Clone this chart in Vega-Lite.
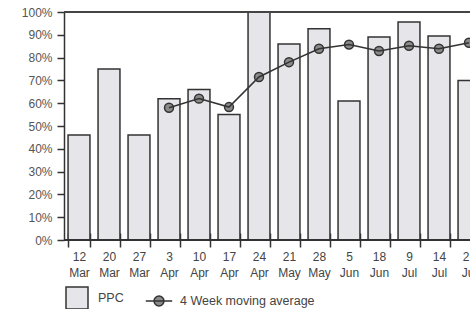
{
  "$schema": "https://vega.github.io/schema/vega-lite/v6.json",
  "autosize": "none",
  "width": 406,
  "height": 228,
  "padding": {"left": 64, "top": 12, "right": 0, "bottom": 69},
  "background": "white",
  "config": {
    "view": {"stroke": null},
    "font": "Liberation Sans",
    "axisY": {"tickCount": 12, "labelOverlap": false}
  },
  "datasets": {
    "weeks": [
      {"week": "12 Mar", "ppc": 0.46, "ma": null},
      {"week": "20 Mar", "ppc": 0.75, "ma": null},
      {"week": "27 Mar", "ppc": 0.46, "ma": null},
      {"week": "3 Apr", "ppc": 0.62, "ma": 0.58},
      {"week": "10 Apr", "ppc": 0.66, "ma": 0.62},
      {"week": "17 Apr", "ppc": 0.55, "ma": 0.583},
      {"week": "24 Apr", "ppc": 1.0, "ma": 0.715},
      {"week": "21 May", "ppc": 0.86, "ma": 0.78},
      {"week": "28 May", "ppc": 0.927, "ma": 0.839},
      {"week": "5 Jun", "ppc": 0.61, "ma": 0.857},
      {"week": "18 Jun", "ppc": 0.89, "ma": 0.829},
      {"week": "9 Jul", "ppc": 0.956, "ma": 0.852},
      {"week": "14 Jul", "ppc": 0.895, "ma": 0.839},
      {"week": "21 Jul", "ppc": 0.70, "ma": 0.865}
    ],
    "legend": [
      {"series": "PPC"},
      {"series": "4 Week moving average"}
    ]
  },
  "data": {"name": "weeks"},
  "layer": [
    {
      "mark": {"type": "bar", "fill": "#e6e6ea", "stroke": "#333", "strokeWidth": 1.5, "clip": true},
      "encoding": {
        "x": {
          "field": "week",
          "type": "nominal",
          "sort": null,
          "scale": {"range": [0, 420], "paddingInner": 0.27, "paddingOuter": 0.135},
          "axis": {
            "title": null,
            "labelAngle": 0,
            "domain": false,
            "offset": -7,
            "tickSize": 14,
            "tickWidth": 1.5,
            "tickColor": "#333",
            "tickBand": "extent",
            "labelPadding": 4,
            "labelFontSize": 12,
            "labelColor": "#444",
            "labelLineHeight": 16,
            "labelExpr": "split(datum.label, ' ')"
          }
        },
        "y": {
          "field": "ppc",
          "type": "quantitative",
          "scale": {"domain": [0, 1], "nice": false},
          "axis": {
            "title": null,
            "values": [0, 0.1, 0.2, 0.3, 0.4, 0.5, 0.6, 0.7, 0.8, 0.9, 1.0],
            "tickCount": 12,
            "format": ".0%",
            "grid": false,
            "labelOverlap": false,
            "domainColor": "#333",
            "domainWidth": 1.5,
            "tickColor": "#333",
            "tickWidth": 1.5,
            "tickSize": 7,
            "labelPadding": 5,
            "labelFontSize": 12,
            "labelColor": "#555"
          }
        }
      }
    },
    {
      "mark": {"type": "rule", "stroke": "#444", "strokeWidth": 2},
      "encoding": {"y": {"datum": 1, "type": "quantitative", "axis": {"title": null, "values": [0, 0.1, 0.2, 0.3, 0.4, 0.5, 0.6, 0.7, 0.8, 0.9, 1.0], "tickCount": 12, "format": ".0%"}}}
    },
    {
      "mark": {"type": "rule", "stroke": "#333", "strokeWidth": 1.5},
      "encoding": {"y": {"datum": 0, "type": "quantitative", "axis": {"title": null, "values": [0, 0.1, 0.2, 0.3, 0.4, 0.5, 0.6, 0.7, 0.8, 0.9, 1.0], "tickCount": 12, "format": ".0%"}}}
    },
    {
      "transform": [{"filter": "isValid(datum.ma)"}],
      "mark": {"type": "point", "shape": "circle", "filled": true, "fill": "#8a8a8a", "stroke": "#333", "strokeWidth": 1.5, "size": 80, "opacity": 1, "clip": true},
      "encoding": {
        "x": {"field": "week", "type": "nominal", "sort": null},
        "y": {"field": "ma", "type": "quantitative", "axis": {"title": null, "values": [0, 0.1, 0.2, 0.3, 0.4, 0.5, 0.6, 0.7, 0.8, 0.9, 1.0], "tickCount": 12, "format": ".0%"}}
      }
    },
    {
      "transform": [{"filter": "isValid(datum.ma)"}],
      "mark": {"type": "line", "stroke": "#333", "strokeWidth": 1.5, "clip": true},
      "encoding": {
        "x": {"field": "week", "type": "nominal", "sort": null},
        "y": {"field": "ma", "type": "quantitative", "axis": {"title": null, "values": [0, 0.1, 0.2, 0.3, 0.4, 0.5, 0.6, 0.7, 0.8, 0.9, 1.0], "tickCount": 12, "format": ".0%"}}
      }
    },
    {
      "data": {"name": "legend"},
      "mark": {"type": "point", "opacity": 0, "filled": true, "strokeWidth": 1.5},
      "encoding": {
        "x": {"value": 0},
        "y": {"value": 0},
        "shape": {
          "field": "series",
          "type": "nominal",
          "scale": {
            "domain": ["PPC", "4 Week moving average"],
            "range": ["square", "M-1.2,0L1.2,0M0.45,0A0.45,0.45,0,1,1,-0.45,0A0.45,0.45,0,1,1,0.45,0Z"]
          },
          "legend": {
            "title": null,
            "orient": "none",
            "legendX": 1,
            "legendY": 274,
            "direction": "horizontal",
            "padding": 0,
            "symbolSize": 484,
            "symbolOpacity": 1,
            "symbolStrokeWidth": 1.5,
            "labelOffset": 9,
            "columnPadding": 18,
            "labelFontSize": 12.5,
            "labelColor": "#444",
            "labelFont": "Liberation Sans"
          }
        },
        "fill": {
          "field": "series",
          "type": "nominal",
          "scale": {"domain": ["PPC", "4 Week moving average"], "range": ["#e6e6ea", "#8a8a8a"]},
          "legend": {
            "title": null,
            "orient": "none",
            "legendX": 1,
            "legendY": 274,
            "direction": "horizontal",
            "padding": 0,
            "symbolSize": 484,
            "symbolOpacity": 1,
            "symbolStrokeWidth": 1.5,
            "labelOffset": 9,
            "columnPadding": 18,
            "labelFontSize": 12.5,
            "labelColor": "#444",
            "labelFont": "Liberation Sans"
          }
        },
        "stroke": {
          "field": "series",
          "type": "nominal",
          "scale": {"domain": ["PPC", "4 Week moving average"], "range": ["#333333", "#333333"]},
          "legend": {
            "title": null,
            "orient": "none",
            "legendX": 1,
            "legendY": 274,
            "direction": "horizontal",
            "padding": 0,
            "symbolSize": 484,
            "symbolOpacity": 1,
            "symbolStrokeWidth": 1.5,
            "labelOffset": 9,
            "columnPadding": 18,
            "labelFontSize": 12.5,
            "labelColor": "#444",
            "labelFont": "Liberation Sans"
          }
        }
      }
    }
  ]
}
